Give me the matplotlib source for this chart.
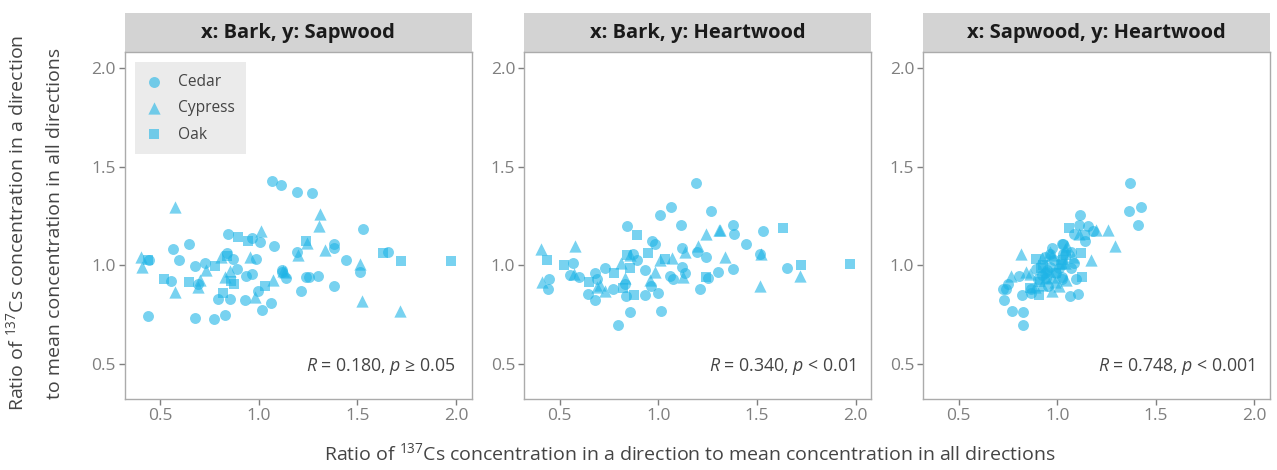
import matplotlib
matplotlib.use("Agg")
import matplotlib.pyplot as plt
from matplotlib.patches import Rectangle

# === DATA: ratio per sample ===
cedar_bark = [0.438, 0.444, 0.553, 0.565, 0.595, 0.644, 0.678, 0.677, 0.691, 0.729,
              0.771, 0.793, 0.830, 0.838, 0.843, 0.855, 0.869, 0.889, 0.930, 0.934,
              0.967, 0.964, 0.984, 0.996, 1.008, 1.014, 1.060, 1.065, 1.076, 1.115,
              1.118, 1.120, 1.137, 1.192, 1.196, 1.213, 1.239, 1.253, 1.269, 1.302,
              1.380, 1.380, 1.382, 1.443, 1.514, 1.530, 1.654]
cedar_sap = [0.741, 1.026, 0.920, 1.083, 1.026, 1.106, 0.732, 0.993, 0.903, 1.008,
             0.726, 0.826, 0.748, 1.062, 1.158, 0.827, 1.031, 0.982, 0.823, 0.946,
             1.139, 0.954, 1.029, 0.869, 1.116, 0.770, 0.805, 1.424, 1.095, 1.407,
             0.974, 0.965, 0.936, 1.369, 1.068, 0.866, 0.939, 0.941, 1.366, 0.942,
             1.109, 0.891, 1.086, 1.026, 0.965, 1.183, 1.068]
cedar_heart = [0.879, 0.929, 0.950, 1.010, 0.938, 0.855, 0.821, 0.961, 0.931, 0.983,
               0.878, 0.694, 0.905, 0.844, 1.198, 0.760, 1.056, 1.026, 0.846, 0.977,
               1.124, 0.892, 1.105, 0.860, 1.256, 0.768, 0.946, 1.294, 0.929, 1.205,
               1.088, 0.990, 0.961, 1.417, 1.068, 0.877, 1.043, 0.935, 1.276, 0.963,
               1.201, 0.982, 1.155, 1.107, 1.057, 1.172, 0.984]

cypress_bark = [0.402, 0.409, 0.574, 0.576, 0.689, 0.703, 0.730, 0.809, 0.831, 0.855,
                0.956, 0.982, 1.010, 1.071, 1.125, 1.133, 1.199, 1.243, 1.306, 1.311,
                1.337, 1.515, 1.522, 1.716]
cypress_sap = [1.039, 0.988, 0.861, 1.293, 0.886, 0.924, 0.975, 1.039, 0.941, 0.971,
               1.042, 0.839, 1.171, 0.924, 0.971, 0.965, 1.049, 1.111, 1.196, 1.259,
               1.077, 1.007, 0.815, 0.767]
cypress_heart = [1.079, 0.912, 0.956, 1.099, 0.889, 0.900, 0.868, 1.008, 0.935, 1.051,
                 0.922, 0.965, 1.024, 1.036, 0.941, 1.066, 1.098, 1.159, 1.176, 1.178,
                 1.039, 0.892, 1.055, 0.943]

oak_bark = [0.436, 0.521, 0.648, 0.777, 0.818, 0.839, 0.857, 0.875, 0.892, 0.946,
            1.033, 1.240, 1.632, 1.722, 1.973]
oak_sap = [1.027, 0.928, 0.914, 0.993, 0.860, 1.045, 0.919, 0.906, 1.141, 1.120,
           0.892, 1.124, 1.059, 1.018, 1.022]
oak_heart = [1.024, 1.000, 0.912, 0.960, 0.882, 1.051, 0.983, 0.846, 1.150, 1.063,
             1.033, 0.937, 1.186, 1.001, 1.003]

panel_titles = ["x: Bark, y: Sapwood", "x: Bark, y: Heartwood", "x: Sapwood, y: Heartwood"]
panel_stats = [r"$R$ = 0.180, $p$ ≥ 0.05", r"$R$ = 0.340, $p$ < 0.01", r"$R$ = 0.748, $p$ < 0.001"]
ticks = [0.5, 1.0, 1.5, 2.0]

plt.rcParams["font.family"] = ["Open Sans", "DejaVu Sans"]
plt.rcParams["mathtext.fontset"] = "custom"
plt.rcParams["mathtext.rm"] = "Open Sans"
plt.rcParams["mathtext.it"] = "Open Sans:italic"

POINT = "#1EB4E6"
GREY_TXT = "#7F7F7F"
DARK_TXT = "#444444"
BORDER = "#ABABAB"


def main():
    species = {
        "Cedar": ("o", cedar_bark, cedar_sap, cedar_heart, 62),
        "Cypress": ("^", cypress_bark, cypress_sap, cypress_heart, 78),
        "Oak": ("s", oak_bark, oak_sap, oak_heart, 56),
    }

    fig = plt.figure(figsize=(12.77, 4.70), dpi=100)
    lefts = [0.0977, 0.4106, 0.7230]
    axes = [fig.add_axes([l, 0.1511, 0.2717, 0.7377]) for l in lefts]

    for i, ax in enumerate(axes):
        for name, (mk, bark, sap, heart, size) in species.items():
            if i == 0:
                x, y = bark, sap
            elif i == 1:
                x, y = bark, heart
            else:
                x, y = sap, heart
            ax.scatter(x, y, marker=mk, s=size, color=POINT, alpha=0.6,
                       linewidths=0, label=name, zorder=3)

        ax.set_xlim(0.32, 2.08)
        ax.set_ylim(0.32, 2.08)
        ax.set_xticks(ticks)
        ax.set_yticks(ticks)
        ax.set_xticklabels([f"{t:.1f}" for t in ticks])
        ax.set_yticklabels([f"{t:.1f}" for t in ticks])
        ax.tick_params(colors=GREY_TXT, labelsize=12.5, length=4, width=1, pad=2.5)
        for sp in ax.spines.values():
            sp.set_color(BORDER)
            sp.set_linewidth(1)

        # facet strip
        strip_h = 39.3 / 346.7
        ax.add_patch(Rectangle((0, 1), 1, strip_h, transform=ax.transAxes,
                               facecolor="#D3D3D3", edgecolor="none", clip_on=False))
        ax.text(0.5, 1 + strip_h / 2, panel_titles[i], transform=ax.transAxes,
                ha="center", va="center", fontsize=14.5, fontweight="bold", color="#1A1A1A")

        ax.text(0.955, 0.062, panel_stats[i], transform=ax.transAxes,
                ha="right", va="bottom", fontsize=12.8, color=DARK_TXT)

    leg = axes[0].legend(loc="upper left", frameon=True, facecolor="#EBEBEB",
                         edgecolor="none", fancybox=False, framealpha=1,
                         fontsize=11.2, borderaxespad=0.65, handlelength=1.0,
                         handletextpad=1.0, labelspacing=0.66, borderpad=0.75)
    for t in leg.get_texts():
        t.set_color(DARK_TXT)

    fig.text(0.5405, 0.012, r"Ratio of $^{137}$Cs concentration in a direction to mean concentration in all directions",
             ha="center", va="bottom", fontsize=14, color=DARK_TXT)
    fig.text(0.004, 0.525, "Ratio of $^{137}$Cs concentration in a direction\nto mean concentration in all directions",
             ha="left", va="center", rotation=90, fontsize=14, color=DARK_TXT,
             linespacing=2.35, multialignment="center")

    fig.savefig("out.png", dpi=100)


if __name__ == "__main__":
    main()
